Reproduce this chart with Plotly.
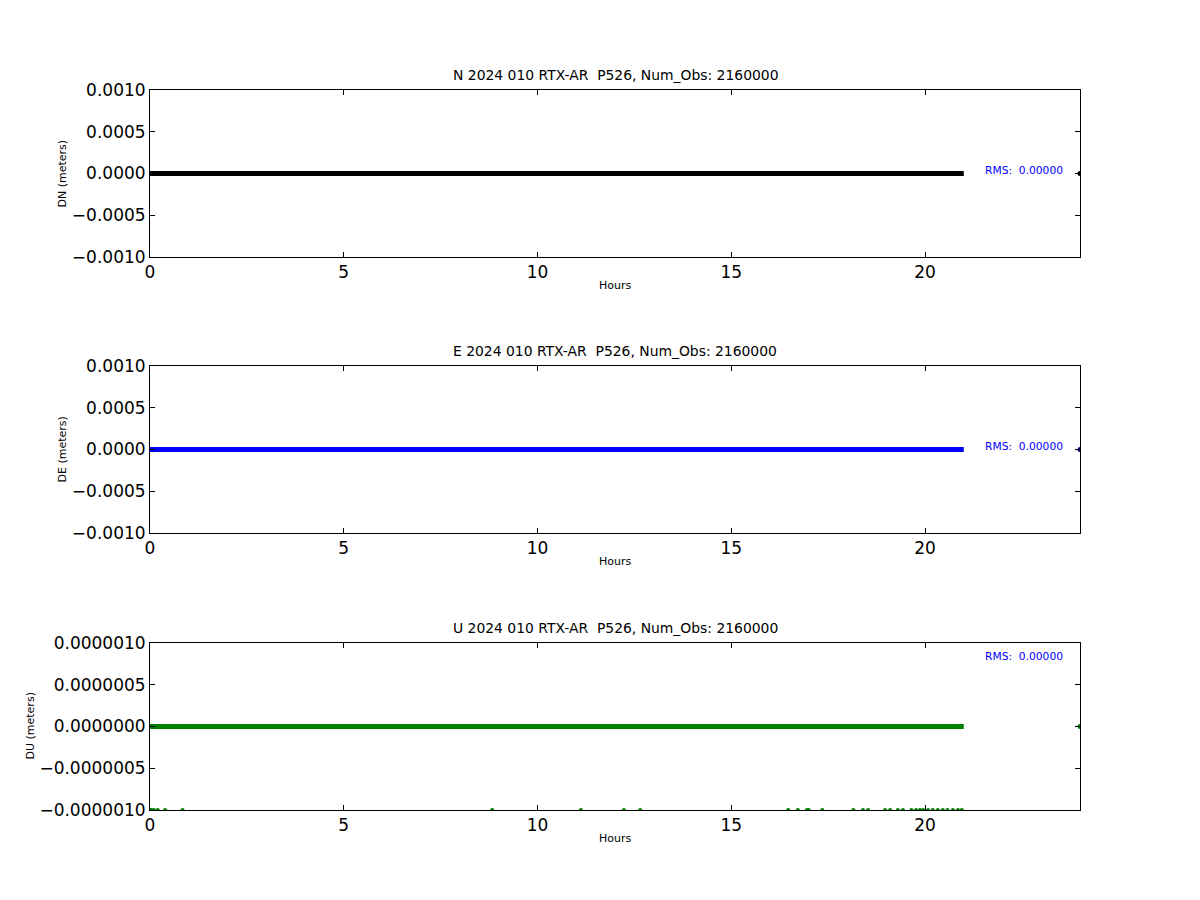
import plotly.graph_objects as go

# ---- data ----
line_x = [0.0, 21.0]
line_y = [0.0, 0.0]
end_x = [24.0]
end_y = [0.0]
u_out_x = [0.02, 0.05, 0.1, 0.2, 0.39, 0.84, 8.83, 11.12, 12.23, 12.65, 16.47, 16.72,
           16.95, 17.0, 17.35, 18.15, 18.4, 18.53, 18.97, 19.1, 19.3, 19.43, 19.65,
           19.77, 19.87, 19.95, 20.08, 20.2, 20.33, 20.46, 20.58, 20.72, 20.85, 20.95]
u_out_y = [-1e-6] * len(u_out_x)

NB = "\u00a0"
titles = ["N 2024 010 RTX-AR " + NB + "P526, Num_Obs: 2160000",
          "E 2024 010 RTX-AR " + NB + "P526, Num_Obs: 2160000",
          "U 2024 010 RTX-AR " + NB + "P526, Num_Obs: 2160000"]
ylabels = ["DN (meters)", "DE (meters)", "DU (meters)"]
colors = ["black", "blue", "green"]
end_colors = ["black", "#000080", "green"]
ranges = [[-0.001, 0.001], [-0.001, 0.001], [-1e-6, 1e-6]]
tickvals_ne = [-0.001, -0.0005, 0.0, 0.0005, 0.001]
ticktext_ne = ["\u22120.0010", "\u22120.0005", "0.0000", "0.0005", "0.0010"]
tickvals_u = [-1e-6, -5e-7, 0.0, 5e-7, 1e-6]
ticktext_u = ["\u22120.0000010", "\u22120.0000005", "0.0000000", "0.0000005", "0.0000010"]
rms_text = "RMS: " + NB + "0.00000"
rms_x = 21.5
rms_y = [0.00004, 0.00004, 0.84e-6]
xticks = [0, 5, 10, 15, 20]

W, H = 1200, 900
px_top = [90, 366, 643]
px_bot = [257, 533, 810]
x0, x1 = 150 / W, 1080 / W

fig = go.Figure()
font = "DejaVu Sans, sans-serif"
layout = dict(width=W, height=H, margin=dict(l=0, r=0, t=0, b=0, pad=0, autoexpand=False),
              paper_bgcolor="white", plot_bgcolor="white", showlegend=False,
              font=dict(family=font, color="black"))
annotations = []
for i in range(3):
    n = "" if i == 0 else str(i + 1)
    xa, ya = "x" + n, "y" + n
    dom = [1 - px_bot[i] / H, 1 - px_top[i] / H]
    layout["xaxis" + n] = dict(domain=[x0, x1], range=[0, 24], anchor=ya,
                               tickvals=xticks, ticks="inside", ticklen=5,
                               tickcolor="black", showline=True, linecolor="black",
                               linewidth=1, mirror="ticks", showgrid=False,
                               zeroline=False, automargin=False,
                               tickfont=dict(size=17, family=font))
    tv, tt = (tickvals_u, ticktext_u) if i == 2 else (tickvals_ne, ticktext_ne)
    layout["yaxis" + n] = dict(domain=dom, range=ranges[i], anchor=xa,
                               tickvals=tv, ticktext=tt, ticks="inside", ticklen=5,
                               tickcolor="black", showline=True, linecolor="black",
                               linewidth=1, mirror="ticks", showgrid=False,
                               zeroline=False, automargin=False,
                               tickfont=dict(size=17, family=font))
    fig.add_trace(go.Scatter(x=line_x, y=line_y, mode="lines", xaxis=xa, yaxis=ya,
                             line=dict(color=colors[i], width=5)))
    fig.add_trace(go.Scatter(x=end_x, y=end_y, mode="markers", xaxis=xa, yaxis=ya,
                             marker=dict(color=end_colors[i], size=5, symbol="circle")))
    if i == 2:
        fig.add_trace(go.Scatter(x=u_out_x, y=u_out_y, mode="markers", xaxis=xa, yaxis=ya,
                                 marker=dict(color="green", size=4)))
    annotations.append(dict(text=titles[i], xref="paper", yref="paper",
                            x=(x0 + x1) / 2, y=1 - (px_top[i] - 15) / H,
                            xanchor="center", yanchor="middle",
                            showarrow=False, font=dict(size=13.9, family=font)))
    annotations.append(dict(text="Hours", xref="paper", yref="paper",
                            x=(x0 + x1) / 2, y=1 - (px_bot[i] + 28) / H,
                            xanchor="center", yanchor="middle",
                            showarrow=False, font=dict(size=11, family=font)))
    ylx = 62 if i < 2 else 30
    annotations.append(dict(text=ylabels[i], xref="paper", yref="paper",
                            x=ylx / W, y=sum(dom) / 2, textangle=-90,
                            xanchor="center", yanchor="middle",
                            showarrow=False, font=dict(size=11, family=font)))
    annotations.append(dict(text=rms_text, xref=xa, yref=ya, x=rms_x, y=rms_y[i],
                            xanchor="left", yanchor="middle", showarrow=False,
                            font=dict(size=10.7, color="blue", family=font)))
layout["annotations"] = annotations
fig.update_layout(**layout)
fig.write_html("out.html", config={"displayModeBar": False})

with open("out.html", "r", encoding="utf-8") as f:
    html = f.read()
html = html.replace("<head>", "<head><style>html,body{margin:0;padding:0;overflow:hidden}</style>", 1)
with open("out.html", "w", encoding="utf-8") as f:
    f.write(html)
